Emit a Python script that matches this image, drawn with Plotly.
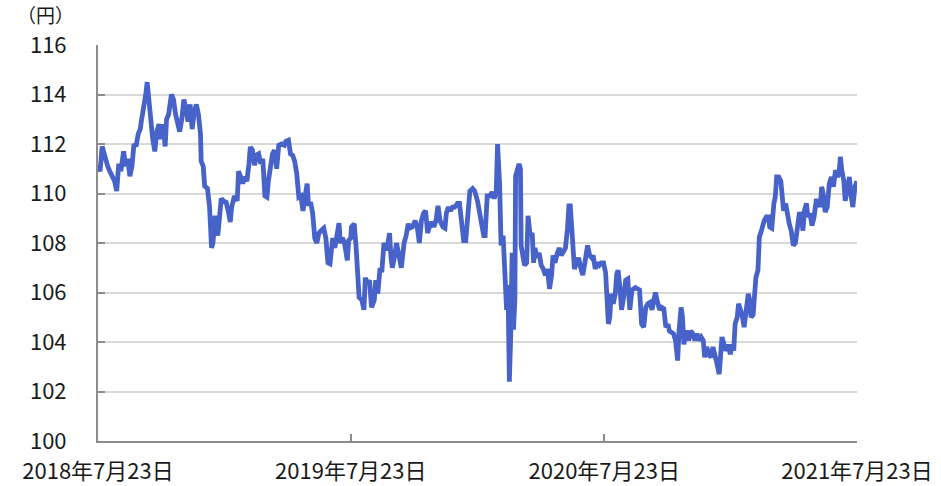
import plotly.graph_objects as go

# ---- data (USD/JPY) ----
dates_2018 = [
    "2018-07-23", "2018-07-26", "2018-07-29", "2018-08-02", "2018-08-06", "2018-08-09", "2018-08-13",
    "2018-08-16", "2018-08-19", "2018-08-22", "2018-08-25", "2018-08-29", "2018-09-01", "2018-09-04",
    "2018-09-07", "2018-09-10", "2018-09-13", "2018-09-16", "2018-09-19", "2018-09-22", "2018-09-24",
    "2018-09-27", "2018-09-30", "2018-10-02", "2018-10-05", "2018-10-07", "2018-10-10", "2018-10-13",
    "2018-10-16", "2018-10-19", "2018-10-22", "2018-10-25", "2018-10-28", "2018-10-30", "2018-11-02",
    "2018-11-06", "2018-11-09", "2018-11-12", "2018-11-15", "2018-11-18", "2018-11-21", "2018-11-24",
    "2018-11-27", "2018-11-30", "2018-12-03", "2018-12-06", "2018-12-09", "2018-12-12", "2018-12-15",
    "2018-12-18", "2018-12-19", "2018-12-22", "2018-12-24", "2018-12-28", "2018-12-31", "2019-01-03",
    "2019-01-05", "2019-01-08", "2019-01-12", "2019-01-17",
]
rates_2018 = [
    111.14, 110.9, 111.9, 111.4, 111.1, 110.9, 110.7,
    110.5, 110.1, 111.2, 110.9, 111.7, 111.1, 111.4,
    110.7, 111.1, 112.0, 111.9, 112.4, 112.6, 113.0,
    113.4, 114.0, 114.5, 113.7, 112.8, 112.2, 111.7,
    112.5, 112.8, 112.2, 112.8, 111.9, 113.0, 113.2,
    114.0, 113.8, 113.2, 112.8, 112.5, 113.0, 113.8,
    113.4, 112.9, 113.6, 112.6, 113.3, 113.6, 113.2,
    112.4, 111.3, 111.1, 110.3, 110.2, 109.5, 107.8,
    108.0, 109.1, 108.3, 109.8,
]

dates_2019a = [
    "2019-01-20", "2019-01-24", "2019-01-27", "2019-01-30", "2019-02-01", "2019-02-05", "2019-02-09",
    "2019-02-11", "2019-02-14", "2019-02-17", "2019-02-20", "2019-02-23", "2019-02-26", "2019-02-28",
    "2019-03-03", "2019-03-06", "2019-03-09", "2019-03-12", "2019-03-15", "2019-03-18", "2019-03-21",
    "2019-03-24", "2019-03-26", "2019-03-29", "2019-04-01", "2019-04-04", "2019-04-07", "2019-04-10",
    "2019-04-14", "2019-04-18", "2019-04-20", "2019-04-24", "2019-04-27", "2019-04-30", "2019-05-03",
    "2019-05-06", "2019-05-09", "2019-05-12", "2019-05-15", "2019-05-17", "2019-05-21", "2019-05-23",
    "2019-05-26", "2019-05-29", "2019-06-01", "2019-06-04", "2019-06-07", "2019-06-10", "2019-06-14",
    "2019-06-17", "2019-06-20", "2019-06-23", "2019-06-27", "2019-06-30", "2019-07-03", "2019-07-06",
    "2019-07-08", "2019-07-11", "2019-07-14", "2019-07-18", "2019-07-20",
]
rates_2019a = [
    109.7, 109.65, 109.3, 108.85, 109.45, 109.9, 109.7,
    110.9, 110.67, 110.4, 110.67, 110.5, 111.2, 111.88,
    111.75, 111.14, 111.55, 111.6, 111.2, 111.4, 109.9,
    109.85, 110.5, 111.07, 111.6, 111.75, 111.0, 111.95,
    112.0, 111.95, 112.1, 112.15, 111.6, 111.55, 111.3,
    110.8, 109.85, 109.9, 109.3, 109.7, 110.4, 109.5,
    109.65, 109.2, 108.2, 108.0, 108.4, 108.5, 108.6,
    108.2, 107.2, 107.16, 108.2, 107.8, 108.3, 108.8,
    108.0, 108.2, 108.0, 107.3, 108.1,
]

dates_2019b = [
    "2019-07-23", "2019-07-24", "2019-07-28", "2019-07-31", "2019-08-02", "2019-08-04", "2019-08-08",
    "2019-08-11", "2019-08-13", "2019-08-16", "2019-08-19", "2019-08-22", "2019-08-26", "2019-08-28",
    "2019-08-31", "2019-09-03", "2019-09-06", "2019-09-09", "2019-09-13", "2019-09-17", "2019-09-19",
    "2019-09-21", "2019-09-24", "2019-09-27", "2019-10-01", "2019-10-04", "2019-10-08", "2019-10-11",
    "2019-10-14", "2019-10-16", "2019-10-20", "2019-10-24", "2019-10-27", "2019-10-30", "2019-11-02",
    "2019-11-05", "2019-11-08", "2019-11-11", "2019-11-13", "2019-11-17", "2019-11-20", "2019-11-23",
    "2019-11-26", "2019-11-29", "2019-12-03", "2019-12-06", "2019-12-08", "2019-12-11", "2019-12-14",
    "2019-12-17", "2019-12-20", "2019-12-24", "2019-12-27", "2019-12-30", "2020-01-02", "2020-01-05",
    "2020-01-09", "2020-01-11", "2020-01-15", "2020-01-18", "2020-01-22",
]
rates_2019b = [
    108.2, 108.65, 108.78, 107.7, 106.6, 105.8, 105.7,
    105.3, 106.6, 106.35, 106.5, 105.4, 105.7, 106.5,
    105.95, 106.9, 106.9, 108.0, 107.7, 108.4, 107.43,
    107.0, 107.43, 108.0, 107.43, 107.0, 108.0, 108.3,
    108.78, 108.6, 108.65, 108.9, 108.65, 108.0, 108.9,
    109.2, 109.3, 108.4, 108.6, 108.85, 108.65, 108.9,
    109.5, 108.9, 108.65, 108.6, 109.2, 109.45, 109.3,
    109.45, 109.45, 109.6, 109.6, 108.65, 108.1, 108.1,
    109.2, 110.1, 110.2, 110.1, 109.7,
]

dates_2020a = [
    "2020-01-25", "2020-01-28", "2020-01-31", "2020-02-02", "2020-02-05", "2020-02-09", "2020-02-12",
    "2020-02-15", "2020-02-18", "2020-02-20", "2020-02-21", "2020-02-23", "2020-02-25", "2020-02-28",
    "2020-03-01", "2020-03-04", "2020-03-06", "2020-03-08", "2020-03-10", "2020-03-12", "2020-03-14",
    "2020-03-16", "2020-03-17", "2020-03-19", "2020-03-22", "2020-03-24", "2020-03-25", "2020-03-28",
    "2020-03-30", "2020-04-02", "2020-04-04", "2020-04-07", "2020-04-10", "2020-04-12", "2020-04-14",
    "2020-04-17", "2020-04-20", "2020-04-23", "2020-04-26", "2020-04-29", "2020-05-02", "2020-05-05",
    "2020-05-08", "2020-05-10", "2020-05-13", "2020-05-16", "2020-05-19", "2020-05-22", "2020-05-25",
    "2020-05-28", "2020-05-31", "2020-06-02", "2020-06-04", "2020-06-07", "2020-06-10", "2020-06-13",
    "2020-06-16", "2020-06-19", "2020-06-22", "2020-06-25", "2020-06-28", "2020-06-29", "2020-07-02",
    "2020-07-05", "2020-07-07", "2020-07-10", "2020-07-13", "2020-07-16", "2020-07-19", "2020-07-22",
    "2020-07-25", "2020-07-27",
]
rates_2020a = [
    109.25, 109.0, 108.3, 108.3, 109.9, 109.9, 110.06,
    109.8, 110.06, 112.0, 111.55, 110.3, 107.9, 108.3,
    107.1, 105.3, 106.3, 102.4, 104.3, 107.6, 104.5,
    105.75, 110.7, 111.0, 111.2, 111.0, 107.9, 107.4,
    107.1, 107.2, 109.1, 108.3, 108.4, 107.2, 107.8,
    107.4, 107.6, 107.1, 106.95, 106.7, 106.95, 106.15,
    106.7, 107.5, 107.2, 107.57, 107.8, 107.5, 107.7,
    107.8, 108.6, 109.5, 109.5, 107.9, 106.95, 107.2,
    107.4, 107.0, 106.7, 107.2, 107.8, 107.9, 107.5,
    107.4, 107.5, 106.95, 107.2, 107.1, 107.2, 107.2,
    106.8, 105.6,
]

dates_2020b = [
    "2020-07-29", "2020-07-31", "2020-08-02", "2020-08-05", "2020-08-08", "2020-08-10", "2020-08-12",
    "2020-08-15", "2020-08-17", "2020-08-20", "2020-08-23", "2020-08-26", "2020-08-29", "2020-09-01",
    "2020-09-03", "2020-09-06", "2020-09-09", "2020-09-12", "2020-09-15", "2020-09-18", "2020-09-21",
    "2020-09-24", "2020-09-27", "2020-09-30", "2020-10-02", "2020-10-05", "2020-10-08", "2020-10-11",
    "2020-10-14", "2020-10-17", "2020-10-20", "2020-10-23", "2020-10-25", "2020-10-28", "2020-10-31",
    "2020-11-03", "2020-11-06", "2020-11-08", "2020-11-11", "2020-11-13", "2020-11-15", "2020-11-17",
    "2020-11-19", "2020-11-22", "2020-11-25", "2020-11-28", "2020-12-01", "2020-12-04", "2020-12-07",
    "2020-12-10", "2020-12-13", "2020-12-15", "2020-12-18", "2020-12-21", "2020-12-24", "2020-12-27",
    "2020-12-30", "2021-01-02", "2021-01-05", "2021-01-07", "2021-01-09", "2021-01-12", "2021-01-15",
    "2021-01-18", "2021-01-21", "2021-01-24",
]
rates_2020b = [
    104.73, 105.0, 105.95, 105.55, 105.95, 106.75, 106.9,
    106.1, 105.3, 105.8, 106.5, 106.55, 105.3, 106.1,
    106.15, 106.2, 106.15, 106.1, 104.73, 104.6, 105.4,
    105.55, 105.6, 105.3, 105.6, 106.0, 105.6, 105.3,
    105.4, 105.35, 104.6, 104.73, 104.45, 104.4, 104.33,
    104.06, 103.25, 104.45, 105.4, 105.0, 103.9, 104.33,
    104.45, 104.06, 104.45, 104.33, 104.06, 104.33, 104.06,
    104.2, 104.06, 103.38, 103.8, 103.5, 103.38, 103.8,
    103.5, 103.1, 102.7, 103.38, 104.2, 103.9, 103.65,
    103.9, 103.5, 103.9,
]

dates_2021 = [
    "2021-01-26", "2021-01-28", "2021-01-31", "2021-02-02", "2021-02-05", "2021-02-07", "2021-02-10",
    "2021-02-13", "2021-02-16", "2021-02-18", "2021-02-20", "2021-02-23", "2021-02-25", "2021-02-27",
    "2021-03-02", "2021-03-04", "2021-03-06", "2021-03-09", "2021-03-11", "2021-03-14", "2021-03-17",
    "2021-03-19", "2021-03-22", "2021-03-25", "2021-03-27", "2021-03-29", "2021-04-01", "2021-04-04",
    "2021-04-06", "2021-04-08", "2021-04-11", "2021-04-13", "2021-04-16", "2021-04-19", "2021-04-22",
    "2021-04-25", "2021-04-28", "2021-05-01", "2021-05-04", "2021-05-06", "2021-05-08", "2021-05-11",
    "2021-05-13", "2021-05-16", "2021-05-19", "2021-05-22", "2021-05-25", "2021-05-28", "2021-05-31",
    "2021-06-02", "2021-06-04", "2021-06-07", "2021-06-10", "2021-06-13", "2021-06-16", "2021-06-19",
    "2021-06-22", "2021-06-25", "2021-06-27", "2021-06-29", "2021-07-01", "2021-07-04", "2021-07-06",
    "2021-07-09", "2021-07-12", "2021-07-14", "2021-07-17", "2021-07-20", "2021-07-23",
]
rates_2021 = [
    103.65, 104.73, 105.0, 105.55, 105.3, 105.1, 104.6,
    105.3, 105.95, 105.7, 105.0, 105.1, 106.35, 106.6,
    106.9, 108.24, 108.4, 108.8, 108.9, 109.05, 109.05,
    108.65, 108.6, 109.6, 109.86, 110.67, 110.67, 110.5,
    109.7, 109.3, 109.6, 109.2, 108.8, 108.5, 107.9,
    108.0, 108.65, 109.25, 108.9, 108.5, 109.3, 109.6,
    109.05, 109.2, 108.7, 109.05, 109.7, 109.7, 109.45,
    110.27, 110.0, 109.25, 109.45, 110.4, 110.67, 110.27,
    110.94, 110.67, 110.8, 111.48, 110.94, 110.5, 109.7,
    110.27, 110.67, 110.0, 109.45, 110.27, 110.5,
]

x_tick_dates = ["2018-07-23", "2019-07-23", "2020-07-23", "2021-07-23"]
x_tick_labels = ["2018年7月23日", "2019年7月23日", "2020年7月23日", "2021年7月23日"]
y_unit_label = "（円）"

dates = dates_2018 + dates_2019a + dates_2019b + dates_2020a + dates_2020b + dates_2021
rates = rates_2018 + rates_2019a + rates_2019b + rates_2020a + rates_2020b + rates_2021

FONT = "Noto Sans CJK JP"
AXIS_GRAY = "#8c8c8c"
TEXT = "#1a1a1a"

fig = go.Figure()
fig.add_trace(go.Scatter(
    x=dates, y=rates, mode="lines",
    line=dict(color="#4763C9", width=4.8),
    showlegend=False, hoverinfo="x+y",
))

fig.update_layout(
    width=941, height=486,
    margin=dict(l=98, r=84, t=45, b=45),
    paper_bgcolor="white", plot_bgcolor="white",
    font=dict(family=FONT, size=22, color=TEXT),
    showlegend=False,
)

fig.update_xaxes(
    type="date", automargin=False,
    range=[x_tick_dates[0], x_tick_dates[-1]],
    tickmode="array", tickvals=x_tick_dates, ticktext=x_tick_labels,
    showgrid=False, zeroline=False,
    showline=True, linecolor=AXIS_GRAY, linewidth=2,
    ticks="inside", ticklen=7, tickwidth=1.5, tickcolor=AXIS_GRAY,
    ticklabelstandoff=10,
    tickfont=dict(family=FONT, size=22, color=TEXT),
)
fig.update_yaxes(
    automargin=False,
    range=[100, 116], dtick=2, tick0=100,
    showgrid=True, gridcolor="#d9d9d9", gridwidth=1.5,
    zeroline=False,
    showline=True, linecolor=AXIS_GRAY, linewidth=2,
    ticks="inside", ticklen=7, tickwidth=1.5, tickcolor=AXIS_GRAY,
    ticklabelstandoff=25,
    tickfont=dict(family=FONT, size=22, color=TEXT),
)

fig.add_annotation(
    text=y_unit_label, xref="paper", yref="paper",
    x=-0.11, y=1.078, xanchor="left", yanchor="middle",
    showarrow=False, font=dict(family=FONT, size=19, color=TEXT),
)

fig.write_html(
    "out.html",
    config={"displayModeBar": False},
    post_script="document.body.style.margin='0';document.body.style.overflow='hidden';",
)
